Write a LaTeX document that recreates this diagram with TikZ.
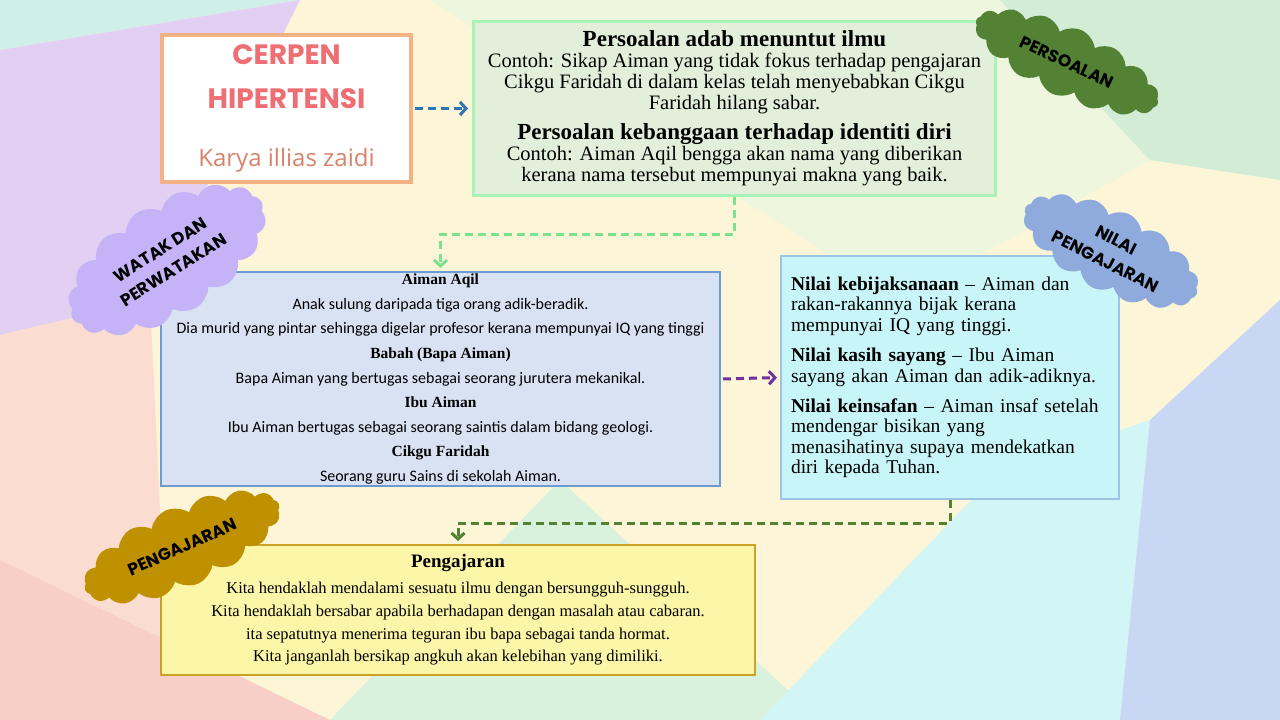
\documentclass[tikz,border=0pt]{standalone}
\usepackage{fontspec}
\setmainfont{Liberation Serif}
\newfontfamily\calibri{Carlito}
\newfontfamily\bubble{Poppins}
\newfontfamily\karya{Open Sans}
\usepackage{xcolor}
\usepackage{tikz}
\usetikzlibrary{arrows.meta,positioning,calc,shapes.symbols}

\definecolor{bgcream}{HTML}{FCF5D8}
\definecolor{bgteal}{HTML}{CFEFEA}
\definecolor{bglilac}{HTML}{E2CFF2}
\definecolor{bgpeach}{HTML}{FADDD0}
\definecolor{bgpink}{HTML}{F8CFC7}
\definecolor{bgmint}{HTML}{D9F2DD}
\definecolor{bgcyan}{HTML}{D2F5F5}
\definecolor{bgperi}{HTML}{C8D8F4}
\definecolor{bggreen}{HTML}{D3ECD6}
\definecolor{bglight}{HTML}{EEF6DD}
\definecolor{titleline}{HTML}{F4B183}
\definecolor{titlered}{HTML}{EE6E73}
\definecolor{karyared}{HTML}{D9826B}
\definecolor{soalfill}{HTML}{E2EFDA}
\definecolor{soalline}{HTML}{A9F2B8}
\definecolor{watakfill}{HTML}{D9E2F3}
\definecolor{watakline}{HTML}{6C9BD2}
\definecolor{nilaifill}{HTML}{C8F6F8}
\definecolor{nilailine}{HTML}{9DC3E6}
\definecolor{ajarfill}{HTML}{FBF6A8}
\definecolor{ajarline}{HTML}{C9A227}
\definecolor{cloudgreen}{HTML}{548235}
\definecolor{cloudlilac}{HTML}{C6B3F7}
\definecolor{cloudblue}{HTML}{8FAADC}
\definecolor{cloudgold}{HTML}{BF9000}
\definecolor{linkblue}{HTML}{2E75B6}
\definecolor{linkgreen}{HTML}{7FE08F}
\definecolor{linkpurple}{HTML}{7030A0}
\definecolor{linkdark}{HTML}{548235}

\begin{document}
\begin{tikzpicture}[x=1pt, y=-1pt,
  box/.style={draw, line width=2pt, inner sep=0pt, align=center},
  puff/.style={cloud, cloud puffs=16, cloud puff arc=115, cloud ignores aspect, inner sep=0pt, align=center,
    font=\bubble\bfseries\fontsize{17}{24}\selectfont},
  link/.style={dash pattern=on 8pt off 5pt, line width=3pt,
    -{Straight Barb[length=6pt,width=13pt]}}]
\useasboundingbox (0,0) rectangle (1280,720);
% background
\fill[bgcream] (0,0) rectangle (1280,720);
\fill[bglight] (430,0) -- (1000,0) -- (1150,160) -- (900,300) -- cycle;
\fill[bgteal] (0,0) -- (300,0) -- (0,50) -- cycle;
\fill[bglilac] (0,50) -- (300,0) -- (150,300) -- (0,335) -- cycle;
\fill[bgpeach] (0,335) -- (150,300) -- (170,720) -- (0,720) -- cycle;
\fill[bgpink] (0,560) -- (330,720) -- (0,720) -- cycle;
\fill[bgmint] (330,720) -- (560,480) -- (820,720) -- cycle;
\fill[bgcyan] (760,720) -- (1000,470) -- (1150,420) -- (1120,720) -- cycle;
\fill[bgperi] (1120,720) -- (1150,420) -- (1280,300) -- (1280,720) -- cycle;
\fill[bggreen] (1000,0) -- (1280,0) -- (1280,180) -- (1150,160) -- cycle;

% boxes
\node[box, draw=titleline, line width=4pt, fill=white, minimum width=249pt, minimum height=147pt,
  font=\bubble\bfseries\fontsize{28}{28}\selectfont, text=titlered] (title) at (286.5,108.5)
  {CERPEN\\[16pt]HIPERTENSI\\[30pt]{\karya\mdseries\fontsize{24}{24}\selectfont\color{karyared}Karya illias zaidi}};

\node[box, draw=soalline, line width=3pt, fill=soalfill, minimum width=522pt, minimum height=174pt,
  font=\fontsize{20.5}{21}\selectfont] (persoalan) at (734.5,108.5)
  {{\bfseries\fontsize{23}{21}\selectfont Persoalan adab menuntut ilmu}\\
   Contoh: Sikap Aiman yang tidak fokus terhadap pengajaran\\
   Cikgu Faridah di dalam kelas telah menyebabkan Cikgu\\
   Faridah hilang sabar.\\[9pt]
   {\bfseries\fontsize{23}{21}\selectfont Persoalan kebanggaan terhadap identiti diri}\\
   Contoh: Aiman Aqil bengga akan nama yang diberikan\\
   kerana nama tersebut mempunyai makna yang baik.};

\node[box, draw=watakline, fill=watakfill, minimum width=559pt, minimum height=214pt,
  font=\calibri\fontsize{16}{24.6}\selectfont] (watak) at (440.5,379)
  {{\rmfamily\bfseries\fontsize{15.5}{15}\selectfont Aiman Aqil}\\
   Anak sulung daripada tiga orang adik-beradik.\\
   Dia murid yang pintar sehingga digelar profesor kerana mempunyai IQ yang tinggi\\
   {\rmfamily\bfseries\fontsize{15.5}{15}\selectfont Babah (Bapa Aiman)}\\
   Bapa Aiman yang bertugas sebagai seorang jurutera mekanikal.\\
   {\rmfamily\bfseries\fontsize{15.5}{15}\selectfont Ibu Aiman}\\
   Ibu Aiman bertugas sebagai seorang saintis dalam bidang geologi.\\
   {\rmfamily\bfseries\fontsize{15.5}{15}\selectfont Cikgu Faridah}\\
   Seorang guru Sains di sekolah Aiman.};

\node[box, draw=nilailine, fill=nilaifill, minimum width=338pt, minimum height=243pt,
  text width=318pt, align=left, font=\fontsize{19.5}{20.5}\selectfont] (nilai) at (950,377.5)
  {\textbf{Nilai kebijaksanaan} – Aiman dan\\
   rakan-rakannya bijak kerana\\
   mempunyai IQ yang tinggi.\\[10pt]
   \textbf{Nilai kasih sayang} – Ibu Aiman\\
   sayang akan Aiman dan adik-adiknya.\\[9.5pt]
   \textbf{Nilai keinsafan} – Aiman insaf setelah\\
   mendengar bisikan yang\\
   menasihatinya supaya mendekatkan\\
   diri kepada Tuhan.};

\node[box, draw=ajarline, fill=ajarfill, minimum width=594pt, minimum height=130pt,
  font=\fontsize{16.5}{22.7}\selectfont] (ajar) at (458,610)
  {{\bfseries\fontsize{19}{19}\selectfont Pengajaran}\\[3pt]
   Kita hendaklah mendalami sesuatu ilmu dengan bersungguh-sungguh.\\
   Kita hendaklah bersabar apabila berhadapan dengan masalah atau cabaran.\\
   ita sepatutnya menerima teguran ibu bapa sebagai tanda hormat.\\
   Kita janganlah bersikap angkuh akan kelebihan yang dimiliki.};

% clouds
\node[puff, fill=cloudgreen, minimum width=200pt, minimum height=70pt, rotate=-25] (c-persoalan) at (1067,62) {PERSOALAN};
\node[puff, fill=cloudlilac, minimum width=222pt, minimum height=112pt, rotate=32] (c-watak) at (167,260) {WATAK DAN\\PERWATAKAN};
\node[puff, fill=cloudblue, minimum width=192pt, minimum height=82pt, rotate=-27] (c-nilai) at (1111,251) {NILAI\\PENGAJARAN};
\node[puff, fill=cloudgold, minimum width=212pt, minimum height=80pt, rotate=24] (c-ajar) at (182,547) {PENGAJARAN};

% links
\draw[link, linkblue, shorten <=2pt, shorten >=4pt] (title.east) -- (persoalan.west);
\draw[link, linkgreen, shorten >=3pt] (persoalan.south) -- ++(0,37) -| (watak.north);
\draw[link, linkpurple, shorten <=2pt, shorten >=3pt] (watak.east) -- (nilai.west);
\draw[link, linkdark, shorten >=3pt] (nilai.south) -- ++(0,23) -| (ajar.north);
\end{tikzpicture}
\end{document}
